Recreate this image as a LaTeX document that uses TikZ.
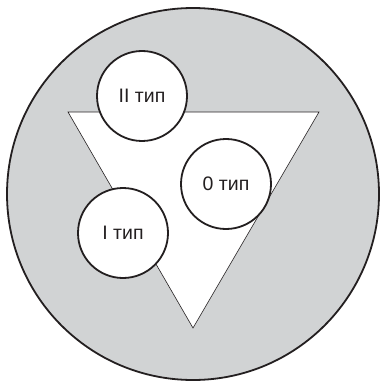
\documentclass[tikz,border=0pt]{standalone}
\usepackage{fontspec}
\setmainfont{Liberation Sans}
\definecolor{bggray}{HTML}{D1D3D4}
\definecolor{inkk}{HTML}{231F20}
\begin{document}
\begin{tikzpicture}[x=1pt,y=-1pt,
  typecircle/.style={circle,draw=inkk,line width=1.8pt,fill=white,minimum size=90pt,inner sep=0pt,
    font=\fontsize{19.5}{21}\selectfont,text=inkk}]
\useasboundingbox (0,0) rectangle (380,382);
\node[circle,draw=inkk,line width=1.8pt,fill=bggray,minimum size=372pt,inner sep=0pt] (outer) at (193,194) {};
\coordinate (tl) at (68,112);
\coordinate (tr) at (319,112);
\coordinate (bt) at (193,328);
\draw[inkk,line width=0.6pt,fill=white] (tl) -- (tr) -- (bt) -- cycle;
\node[typecircle] (two) at (142,96) {II тип};
\node[typecircle] (zero) at (226,184) {0 тип};
\node[typecircle] (one) at (123,233) {I тип};
\end{tikzpicture}
\end{document}
